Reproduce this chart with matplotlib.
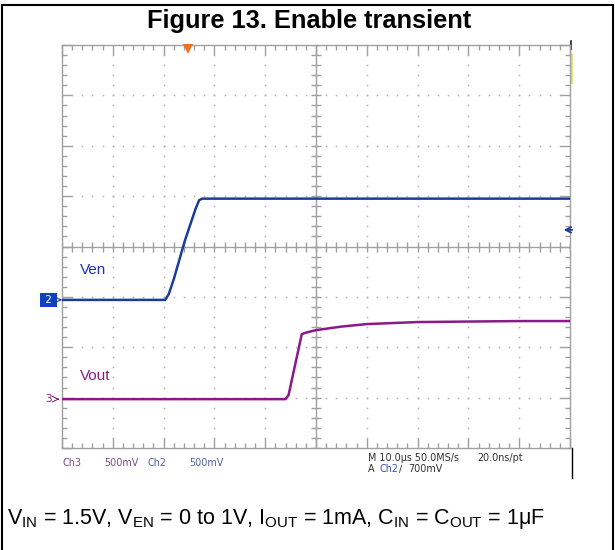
import matplotlib.pyplot as plt
import numpy as np

plt.rcParams['font.family'] = ['Liberation Sans', 'DejaVu Sans']
plt.rcParams['mathtext.fontset'] = 'custom'
plt.rcParams['mathtext.rm'] = 'Liberation Sans'

W, H = 615, 550

# time in us (10 us/div), level in divisions from screen centre
ven_t = [0, 20.3, 21.0, 22.0, 24.2, 26.3, 27.0, 27.6, 100]
ven_v = [-1.06, -1.06, -0.95, -0.65, 0.12, 0.75, 0.92, 0.95, 0.95]

vout_t = [0, 44.0, 44.6, 46.1, 47.2, 48, 50, 55, 60, 65, 70, 80, 90, 100]
vout_v = [-3.03, -3.03, -2.95, -2.25, -1.74, -1.71, -1.66, -1.59, -1.54,
          -1.52, -1.50, -1.49, -1.48, -1.48]

trig_t = 24.8
trig_level = 0.33

grid_c = '#a0a0a0'
blue = '#1c3c9a'
purple = '#8a1a8a'


def fx(x):
    return x / W


def fy(y):
    return 1 - y / H


fig = plt.figure(figsize=(W / 100, H / 100), dpi=100)
ax = fig.add_axes([fx(62), fy(448), 508 / W, 403 / H])
ax.set_xlim(0, 100)
ax.set_ylim(-4, 4)

for s in ax.spines.values():
    s.set_color(grid_c)
    s.set_linewidth(1)
ax.set_xticks(np.arange(0, 101, 10))
ax.set_xticks(np.arange(0, 101, 2), minor=True)
ax.set_yticks(np.arange(-4, 4.1, 1))
ax.set_yticks(np.arange(-4, 4.1, 0.2), minor=True)
ax.tick_params(which='both', direction='in', top=True, right=True,
               labelbottom=False, labelleft=False, color=grid_c, width=1)
ax.tick_params(which='major', length=7)
ax.tick_params(which='minor', length=3.5)

# dotted graticule
for gx in range(10, 100, 10):
    if gx == 50:
        continue
    ys = np.arange(-4, 4.01, 0.2)
    ax.plot(np.full_like(ys, gx), ys, ls='none', marker='s', ms=1.1,
            color='#b0b0b0', mew=0)
for gy in [-3, -2, -1, 1, 2, 3]:
    xs = np.arange(0, 100.1, 2)
    ax.plot(xs, np.full_like(xs, gy), ls='none', marker='s', ms=1.1,
            color='#b0b0b0', mew=0)

# centre cross with ticks
ax.axhline(0, color=grid_c, lw=1)
ax.axvline(50, color=grid_c, lw=1)
xs = np.arange(0, 100.1, 2)
ax.plot(xs, np.zeros_like(xs), ls='none', marker='|', ms=7, mew=1, color=grid_c)
ys = np.arange(-4, 4.01, 0.2)
ax.plot(np.full_like(ys, 50), ys, ls='none', marker='_', ms=7, mew=1, color=grid_c)

# traces
ax.plot(ven_t, ven_v, color=blue, lw=1.8, zorder=5)
ax.plot(vout_t, vout_v, color=purple, lw=1.8, zorder=5)

ax.text(3.6, -0.47, 'Ven', color='#2030c0', fontsize=11, va='center')
ax.text(3.6, -2.57, 'Vout', color=purple, fontsize=11, va='center')

# trigger markers
ax.plot([trig_t], [3.93], marker='v', ms=7, color='#f07020', mew=0,
        clip_on=False, zorder=6)
ax.annotate('', xy=(98.2, trig_level), xytext=(101.0, trig_level),
            arrowprops=dict(arrowstyle='->', color=blue, lw=1.3))
ax.plot([100.3, 100.3], [3.8, 3.25], color='#e0d860', lw=1.2, clip_on=False)
ax.plot([100.2, 100.2], [3.92, 4.08], color='#202020', lw=1.2, clip_on=False)

# channel ground markers
ax.text(-2.6, ven_v[0], ' 2 ', color='white', fontsize=7.5, ha='center',
        va='center', fontfamily='DejaVu Sans',
        bbox=dict(boxstyle='square,pad=0.2', fc='#1040c0', ec='none'))
ax.annotate('', xy=(0, ven_v[0]), xytext=(-1.0, ven_v[0]),
            arrowprops=dict(arrowstyle='->', color=blue, lw=0.8))
ax.text(-2.6, vout_v[0], '3', color=purple, fontsize=7.5, ha='center',
        va='center', fontfamily='DejaVu Sans')
ax.annotate('', xy=(0, vout_v[0]), xytext=(-1.4, vout_v[0]),
            arrowprops=dict(arrowstyle='->', color=purple, lw=0.8))

# scope readout text
small = dict(fontsize=6.9, fontfamily='DejaVu Sans', va='center')
fig.text(fx(63), fy(463), 'Ch3', color='#7a4a8a', **small)
fig.text(fx(104), fy(463), '500mV', color='#7a4a8a', **small)
fig.text(fx(148), fy(463), 'Ch2', color='#5060a0', **small)
fig.text(fx(189), fy(463), '500mV', color='#5060a0', **small)
fig.text(fx(368), fy(458), 'M 10.0\u00b5s 50.0MS/s', color='#303030', **small)
fig.text(fx(477), fy(458), '20.0ns/pt', color='#303030', **small)
fig.text(fx(368), fy(469), 'A', color='#303030', **small)
fig.text(fx(379), fy(469), 'Ch2', color='#3050b0', **small)
fig.text(fx(399), fy(469), '\u2215', color='#303030', **small)
fig.text(fx(408), fy(469), '700mV', color='#303030', **small)

# title and caption
fig.text(fx(309), fy(21), 'Figure 13. Enable transient', ha='center',
         va='center', fontsize=18.3, fontweight='bold')
caption = (r'V$_{\mathregular{IN}}$ = 1.5V, V$_{\mathregular{EN}}$ = 0 to 1V, '
           r'I$_{\mathregular{OUT}}$ = 1mA, C$_{\mathregular{IN}}$ = '
           r'C$_{\mathregular{OUT}}$ = 1$\mathregular{\mu}$F')
fig.text(fx(7), fy(519), caption, ha='left', va='center', fontsize=15.5)

# outer frame and screenshot edge
frame = dict(color='black', lw=1.5, transform=fig.transFigure)
fig.add_artist(plt.Line2D([fx(2), fx(613)], [fy(5), fy(5)], **frame))
fig.add_artist(plt.Line2D([fx(2), fx(2)], [fy(5), 0], **frame))
fig.add_artist(plt.Line2D([fx(613), fx(613)], [fy(5), 0], **frame))
fig.add_artist(plt.Line2D([fx(571.5), fx(571.5)], [fy(448), fy(478)],
                          color='black', lw=1, transform=fig.transFigure))

fig.savefig('out.png', dpi=100)
